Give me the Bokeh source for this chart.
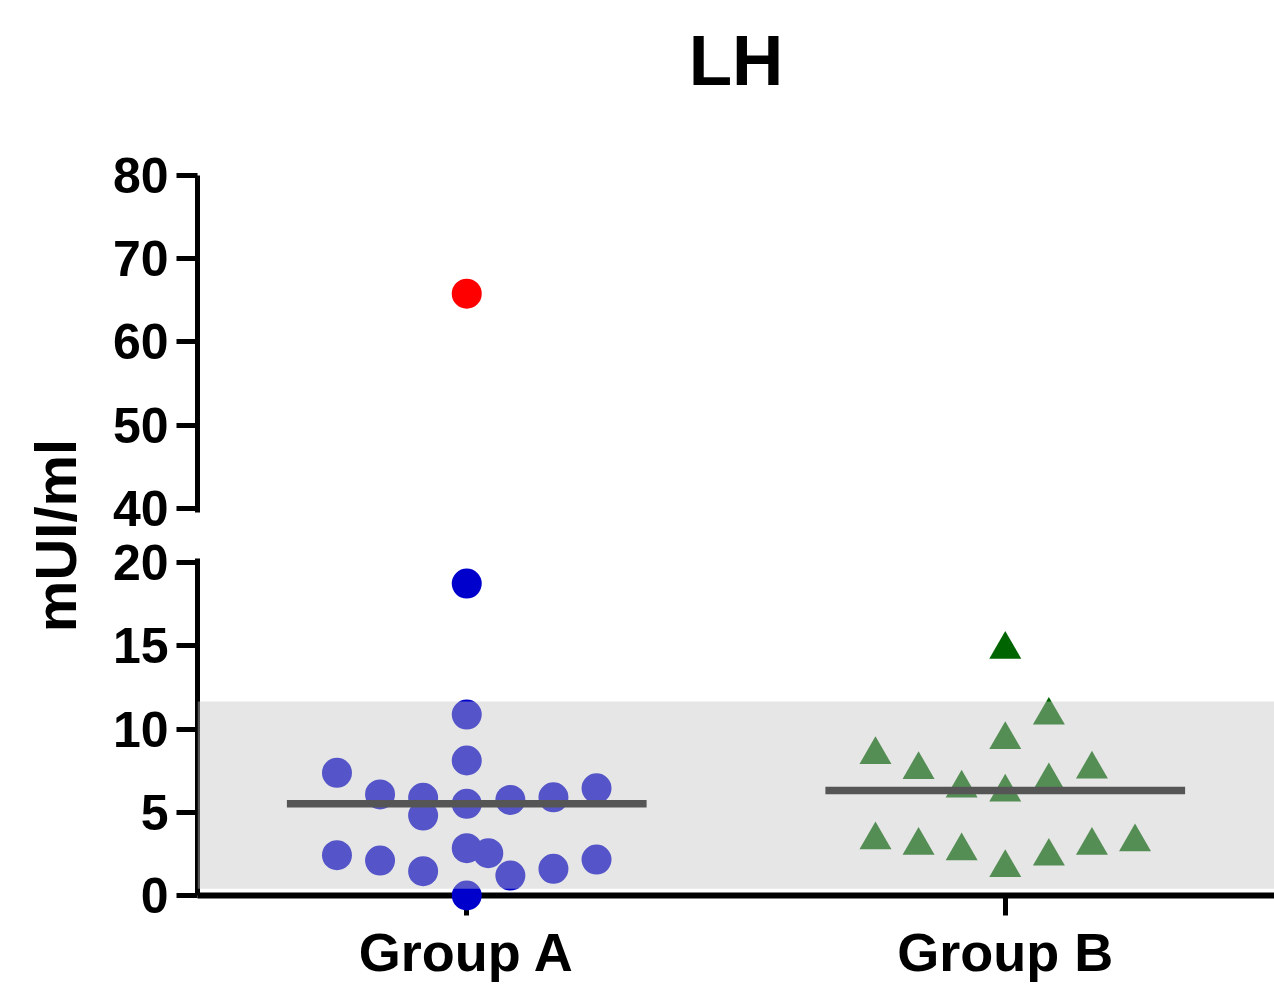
from bokeh.plotting import figure
from bokeh.models import Range1d, FixedTicker, ColumnDataSource, BoxAnnotation, Title
from bokeh.embed import file_html
from bokeh.resources import INLINE

# ---------------- data ----------------
title_text = "LH"
y_label = "mUI/ml"
categories = ["Group A", "Group B"]

group_a_values = [7.37, 6.07, 5.87, 4.80, 10.87, 8.11, 5.51, 5.74, 5.90, 6.44,
                  2.42, 2.10, 1.46, 2.84, 2.54, 1.20, 1.60, 2.16, 0.0, 18.74]
group_a_jitter = [-0.241, -0.161, -0.081, -0.081, 0.0, 0.0, 0.0, 0.081, 0.161, 0.241,
                  -0.241, -0.161, -0.081, 0.0, 0.040, 0.081, 0.161, 0.241, 0.0, 0.0]
group_a_outlier = [65.8]
group_a_outlier_jitter = [0.0]
group_a_center = 5.51

group_b_values = [8.46, 7.56, 6.44, 9.36, 6.20, 10.82, 6.88, 7.58,
                  3.33, 3.01, 2.67, 1.67, 2.35, 3.01, 3.21, 14.78]
group_b_jitter = [-0.241, -0.161, -0.081, 0.0, 0.0, 0.081, 0.081, 0.161,
                  -0.241, -0.161, -0.081, 0.0, 0.081, 0.161, 0.241, 0.0]
group_b_center = 6.31

normal_range = [0.4, 11.65]
lower_ticks = [0, 5, 10, 15, 20]
upper_ticks = [40, 50, 60, 70, 80]

# ---------------- broken axis mapping ----------------
BREAK_LOW, BREAK_HIGH = 20, 40
GAP = 3.25
UPPER_SCALE = 0.5


def ymap(v):
    return v if v <= BREAK_LOW else BREAK_LOW + GAP + (v - BREAK_HIGH) * UPPER_SCALE


FONT = "Liberation Sans"
HALF_LINE = 0.334

p = figure(width=1274, height=986, output_backend="svg", toolbar_location=None,
           x_range=Range1d(0, len(categories)), y_range=Range1d(0, ymap(upper_ticks[-1])),
           min_border_left=197, min_border_right=0, min_border_top=175, min_border_bottom=91)
p.outline_line_color = None
p.grid.visible = False
p.background_fill_color = "white"

# real title (outer slot)
p.title.text = title_text
p.title.align = "center"
p.title.offset = 6
p.title.standoff = 0
p.title.text_font = FONT
p.title.text_font_size = "71px"
p.title.text_font_style = "bold"
p.title.text_color = "black"

# spacer between frame and title (added slot lies nearest the frame)
p.add_layout(Title(text=" ", text_font_size="10px", standoff=63), "above")

# y axis
yt = [ymap(v) for v in lower_ticks + upper_ticks]
yax = p.yaxis[0]
yax.ticker = FixedTicker(ticks=yt)
yax.major_label_overrides = {ymap(v): str(v) for v in lower_ticks + upper_ticks}
yax.axis_line_width = 5
yax.axis_line_dash = "337 46"
yax.major_tick_line_width = 5
yax.major_tick_out = 21
yax.major_tick_in = 0
yax.minor_tick_line_color = None
yax.major_label_text_font = FONT
yax.major_label_text_font_size = "50px"
yax.major_label_text_font_style = "bold"
yax.major_label_text_color = "black"
yax.major_label_standoff = 8
yax.axis_label = y_label
yax.axis_label_text_font = FONT
yax.axis_label_text_font_size = "58px"
yax.axis_label_text_font_style = "bold"
yax.axis_label_text_color = "black"
yax.axis_label_standoff = 22

# x axis
xpos = [i + 0.5 for i in range(len(categories))]
xax = p.xaxis[0]
xax.ticker = FixedTicker(ticks=xpos)
xax.major_label_overrides = {x: c for x, c in zip(xpos, categories)}
xax.axis_line_width = 6
xax.major_tick_line_width = 5
xax.major_tick_out = 20
xax.major_tick_in = 0
xax.minor_tick_line_color = None
xax.major_label_text_font = FONT
xax.major_label_text_font_size = "54px"
xax.major_label_text_font_style = "bold"
xax.major_label_text_color = "black"
xax.major_label_standoff = 6

# points
src_a = ColumnDataSource(dict(x=[xpos[0] + j for j in group_a_jitter],
                              y=[ymap(v) for v in group_a_values]))
src_a_out = ColumnDataSource(dict(x=[xpos[0] + j for j in group_a_outlier_jitter],
                                  y=[ymap(v) for v in group_a_outlier]))
src_b = ColumnDataSource(dict(x=[xpos[1] + j for j in group_b_jitter],
                              y=[ymap(v) for v in group_b_values]))

p.scatter("x", "y", source=src_a, marker="circle", size=30, fill_color="#0000CC",
          line_color=None, level="overlay")
p.scatter("x", "y", source=src_a_out, marker="circle", size=30, fill_color="#FF0000",
          line_color=None, level="overlay")
p.scatter("x", "y", source=src_b, marker="triangle", size=32, fill_color="#006400",
          line_color=None, level="overlay")

# center lines
centers = [group_a_center, group_b_center]
p.segment(x0=[x - HALF_LINE for x in xpos], x1=[x + HALF_LINE for x in xpos],
          y0=[ymap(c) for c in centers], y1=[ymap(c) for c in centers],
          line_color="black", line_width=7.5, level="overlay")

# normal-range band (semi-transparent overlay)
p.add_layout(BoxAnnotation(bottom=ymap(normal_range[0]), top=ymap(normal_range[1]),
                           fill_color=(197, 197, 197), fill_alpha=0.43, line_color=None,
                           level="overlay"))

open("out.html", "w").write(file_html(p, INLINE))
